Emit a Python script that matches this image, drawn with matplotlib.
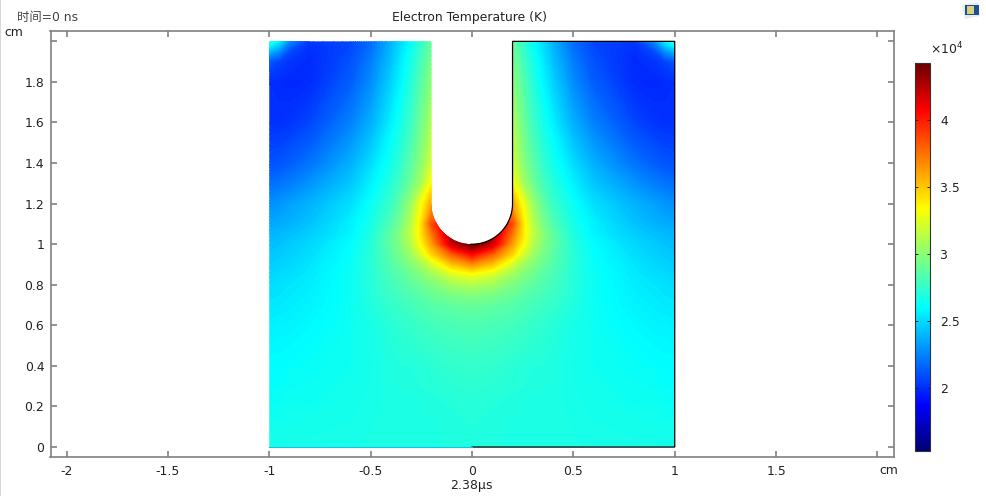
import numpy as np
import matplotlib
matplotlib.use("Agg")
import matplotlib.pyplot as plt
from matplotlib.colors import LinearSegmentedColormap, Normalize
from matplotlib.cm import ScalarMappable
from matplotlib.patches import PathPatch, Rectangle, Polygon
from matplotlib.path import Path

plt.rcParams["font.family"] = ["DejaVu Sans"]
plt.rcParams["axes.unicode_minus"] = False
plt.rcParams["mathtext.default"] = "regular"

# Field, right half (x >= 0), units of 1e4 K
x_half = [0, .1, .2, .25, .3, .35, .4, .5, .6, .8, .9, .95, 1]
y_rows = [0, .2, .4, .6, .7, .75, .8, .85, .9, .95, 1.0, 1.05, 1.1, 1.2, 1.3, 1.4, 1.6, 1.8, 1.9, 1.95, 2.0]
T_half = [
    [2.69, 2.69, 2.68, 2.68, 2.68, 2.68, 2.68, 2.68, 2.67, 2.67, 2.67, 2.66, 2.66],
    [2.71, 2.70, 2.69, 2.69, 2.68, 2.68, 2.68, 2.67, 2.66, 2.64, 2.64, 2.63, 2.63],
    [2.75, 2.74, 2.72, 2.71, 2.70, 2.70, 2.69, 2.66, 2.64, 2.62, 2.61, 2.60, 2.60],
    [2.82, 2.81, 2.79, 2.77, 2.75, 2.73, 2.71, 2.67, 2.63, 2.59, 2.57, 2.57, 2.56],
    [2.90, 2.88, 2.85, 2.82, 2.80, 2.77, 2.75, 2.69, 2.63, 2.57, 2.55, 2.54, 2.54],
    [2.98, 2.95, 2.90, 2.86, 2.83, 2.80, 2.77, 2.70, 2.63, 2.56, 2.54, 2.53, 2.52],
    [3.10, 3.06, 2.96, 2.91, 2.87, 2.83, 2.79, 2.70, 2.63, 2.55, 2.53, 2.52, 2.51],
    [3.30, 3.22, 3.05, 2.97, 2.91, 2.86, 2.81, 2.71, 2.63, 2.54, 2.51, 2.50, 2.49],
    [3.65, 3.50, 3.20, 3.07, 2.98, 2.90, 2.84, 2.71, 2.62, 2.53, 2.49, 2.47, 2.46],
    [4.05, 3.80, 3.45, 3.22, 3.05, 2.95, 2.86, 2.71, 2.61, 2.51, 2.47, 2.45, 2.44],
    [4.43, 4.20, 3.60, 3.35, 3.12, 2.98, 2.88, 2.70, 2.60, 2.49, 2.45, 2.43, 2.42],
    [4.43, 4.30, 3.72, 3.42, 3.15, 3.00, 2.87, 2.68, 2.57, 2.46, 2.42, 2.40, 2.39],
    [4.43, 4.30, 3.85, 3.42, 3.13, 2.95, 2.83, 2.66, 2.56, 2.43, 2.38, 2.36, 2.35],
    [3.60, 3.60, 3.60, 3.32, 3.05, 2.88, 2.76, 2.62, 2.51, 2.38, 2.33, 2.30, 2.28],
    [3.35, 3.35, 3.35, 3.08, 2.92, 2.80, 2.70, 2.56, 2.44, 2.29, 2.23, 2.20, 2.19],
    [3.20, 3.20, 3.20, 3.00, 2.86, 2.74, 2.65, 2.50, 2.37, 2.20, 2.14, 2.11, 2.10],
    [3.10, 3.10, 3.10, 2.92, 2.77, 2.66, 2.56, 2.37, 2.24, 2.07, 2.02, 2.01, 2.01],
    [3.00, 3.00, 3.00, 2.85, 2.70, 2.58, 2.47, 2.27, 2.14, 1.99, 1.98, 1.99, 2.00],
    [2.95, 2.95, 2.95, 2.80, 2.66, 2.55, 2.42, 2.23, 2.10, 1.99, 2.02, 2.06, 2.12],
    [2.92, 2.92, 2.92, 2.77, 2.63, 2.52, 2.40, 2.20, 2.08, 2.00, 2.08, 2.27, 2.40],
    [2.90, 2.90, 2.90, 2.75, 2.62, 2.50, 2.38, 2.18, 2.07, 2.02, 2.27, 2.55, 2.75],
]
x_ticks = [-2, -1.5, -1, -0.5, 0, 0.5, 1, 1.5, 2]
x_ticklabels = ["-2", "-1.5", "-1", "-0.5", "0", "0.5", "1", "1.5", ""]
y_ticks = [0, .2, .4, .6, .8, 1, 1.2, 1.4, 1.6, 1.8, 2]
y_ticklabels = ["0", "0.2", "0.4", "0.6", "0.8", "1", "1.2", "1.4", "1.6", "1.8", ""]
cbar_ticks = [2, 2.5, 3, 3.5, 4]
cbar_ticklabels = ["2", "2.5", "3", "3.5", "4"]
T_min, T_max = 1.53, 4.425

W, H = 986, 496
fig = plt.figure(figsize=(W / 100, H / 100), dpi=100, facecolor="white")


def box(l, t, r, b):
    return [l / W, 1 - b / H, (r - l) / W, (b - t) / H]


GRAY = "#808080"
TXT = "#222222"
FS = 8.9
ax = fig.add_axes(box(50.5, 31, 893.5, 457))
ax.set_xlim(-2.079, 2.079)
ax.set_ylim(-0.049, 2.051)
for s in ax.spines.values():
    s.set_color(GRAY)
    s.set_linewidth(1.2)
ax.set_xticks(x_ticks, x_ticklabels)
ax.set_yticks(y_ticks, y_ticklabels)
ax.tick_params(direction="in", length=4, width=1.2, color=GRAY, top=True, right=True,
               labelsize=FS, labelcolor=TXT, pad=4.5)
ax.tick_params(axis="x", pad=6)

cmap = LinearSegmentedColormap.from_list(
    "rainbow_like",
    [(0, (0, 0, .45)), (.118, (0, 0, 1)), (.37, (0, 1, 1)), (.625, (1, 1, 0)),
     (.88, (1, 0, 0)), (1, (.42, 0, 0))], N=512)
norm = Normalize(T_min, T_max)

xh = np.array(x_half)
T = np.array(T_half)
X = np.concatenate([-xh[:0:-1], xh])
Z = np.hstack([T[:, :0:-1], T])
cs = ax.contourf(X, y_rows, Z, levels=np.linspace(T_min, T_max, 241), cmap=cmap, norm=norm,
                 antialiased=False, extend="both")

# geometry of the domain: rectangle with a round-tipped slot of radius 0.2 centred on (0, 1.2)
ang = np.linspace(np.pi, 2 * np.pi, 60)
arc = np.column_stack([0.2 * np.cos(ang), 1.2 + 0.2 * np.sin(ang)])
outline = np.vstack([[[-1, 0], [1, 0], [1, 2], [.2, 2]], arc[::-1], [[-.2, 2], [-1, 2], [-1, 0]]])
clip = PathPatch(Path(outline), transform=ax.transData, fc="none", ec="none")
ax.add_patch(clip)
cs.set_clip_path(clip)

n = len(arc)
right_edge = np.vstack([[[0, 0], [1, 0], [1, 2], [.2, 2]], arc[::-1][:n // 2 + 1]])
ax.plot(right_edge[:, 0], right_edge[:, 1], color="black", lw=0.9, solid_joinstyle="miter")
ax.plot([-1, 0], [0, 0], color="#18bfe0", lw=0.8)

# colour bar
cax = fig.add_axes(box(915, 63, 930, 451))
cb = fig.colorbar(ScalarMappable(norm=norm, cmap=cmap), cax=cax)
cb.set_ticks(cbar_ticks, labels=cbar_ticklabels)
cb.outline.set_edgecolor("#333333")
cb.outline.set_linewidth(0.8)
cax.tick_params(direction="in", length=2.5, width=0.7, color="#222222", left=True, right=True,
                labelsize=FS, labelcolor=TXT, pad=7.5)


def px_text(x, y, s, **kw):
    kw.setdefault("fontsize", FS)
    kw.setdefault("color", TXT)
    kw.setdefault("va", "center")
    fig.text(x / W, 1 - y / H, s, **kw)


px_text(470, 17, "Electron Temperature (K)", ha="center")
px_text(17, 17, "时间=0 ns", ha="left", color="#444444",
        family=["DejaVu Sans", "Noto Sans CJK SC"])
px_text(4, 32, "cm", ha="left")
px_text(879, 471, "cm", ha="left")
px_text(472, 486, "2.38$\\mu$s", ha="center")
px_text(930, 49, "$\\times10^{4}$", ha="left")

# left window edge and small logo in the corner
fig.add_artist(Rectangle((0, 0), 1.2 / W, 1, transform=fig.transFigure, fc="#d8d8d8", ec="none"))
fig.add_artist(Polygon([(962 / W, 1 - 5 / H), (978 / W, 1 - 2 / H), (980 / W, 1 - 16 / H), (965 / W, 1 - 19 / H)],
                       transform=fig.transFigure, fc="#e6ecf2", ec="none"))
fig.add_artist(Rectangle((965 / W, 1 - 15 / H), 14 / W, 10 / H, transform=fig.transFigure, fc="#1d4f96", ec="none"))
fig.add_artist(Rectangle((967 / W, 1 - 14 / H), 7 / W, 8 / H, transform=fig.transFigure, fc="#d9d27a", ec="none"))

fig.savefig("out.png", dpi=100, facecolor="white")
